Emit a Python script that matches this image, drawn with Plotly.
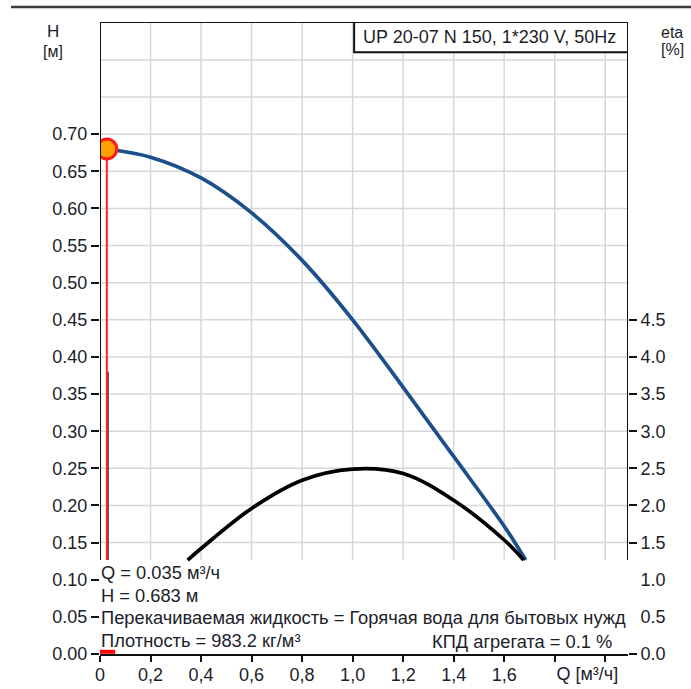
import plotly.graph_objects as go

# ---------------- data ----------------
q_head = [0.027, 0.2, 0.4, 0.6, 0.8, 1.0, 1.2, 1.4, 1.6, 1.685]
h_head = [0.680, 0.669, 0.641, 0.594, 0.530, 0.450, 0.359, 0.266, 0.172, 0.1265]

q_eta = [0.347, 0.4, 0.6, 0.8, 1.0, 1.2, 1.4, 1.6, 1.677]
eta_vals = [1.265, 1.42, 1.96, 2.34, 2.49, 2.43, 2.07, 1.535, 1.265]

op_q = 0.027          # operating point (drawn position)
op_h = 0.680
op_q_label = "0.035"
op_h_label = "0.683"

x_tick_vals = [0, 0.2, 0.4, 0.6, 0.8, 1.0, 1.2, 1.4, 1.6, 1.8, 2.0]
x_tick_text = ["0", "0,2", "0,4", "0,6", "0,8", "1,0", "1,2", "1,4", "1,6", "", ""]
h_tick_vals = [0.00, 0.05, 0.10, 0.15, 0.20, 0.25, 0.30, 0.35, 0.40, 0.45, 0.50, 0.55, 0.60, 0.65, 0.70]
eta_tick_vals_marked = [0.0, 1.5, 2.0, 2.5, 3.0, 3.5, 4.0, 4.5]
eta_tick_vals_plain = [0.5, 1.0]
h_grid = [0.15, 0.20, 0.25, 0.30, 0.35, 0.40, 0.45, 0.50, 0.55, 0.60, 0.65, 0.70, 0.75, 0.80]
q_grid = [0.2, 0.4, 0.6, 0.8, 1.0, 1.2, 1.4, 1.6, 1.8, 2.0]

info_lines = [
    "Q = " + op_q_label + " м³/ч",
    "H = " + op_h_label + " м",
    "Перекачиваемая жидкость = Горячая вода для бытовых нужд",
    "Плотность = 983.2 кг/м³",
]
eff_text = "КПД агрегата = 0.1 %"
title_text = "UP 20-07 N 150, 1*230 V, 50Hz"

X_MAX = 2.09
H_MAX = 0.851
ETA_MAX = H_MAX * 10
GRID_BOTTOM = 0.1265

FONT = "Arial, Liberation Sans, sans-serif"
TXT = "#1c1e2a"
GRID = "#d4d7db"
FS = 18

fig = go.Figure()

# red marker bar on axis
fig.add_trace(go.Scatter(x=[0, 0.06], y=[0.003, 0.003], mode="lines",
                         line=dict(color="red", width=4), hoverinfo="skip", showlegend=False))
# dark companion line
fig.add_trace(go.Scatter(x=[op_q + 0.005, op_q + 0.005], y=[GRID_BOTTOM, 0.38], mode="lines",
                         line=dict(color="#333333", width=1.5), hoverinfo="skip", showlegend=False))
# red vertical line
fig.add_trace(go.Scatter(x=[op_q, op_q], y=[GRID_BOTTOM, op_h], mode="lines",
                         line=dict(color="#ff2020", width=2), hoverinfo="skip", showlegend=False))
# eta curve
fig.add_trace(go.Scatter(x=q_eta, y=eta_vals, mode="lines", yaxis="y2",
                         line=dict(color="black", width=3.7, shape="spline", smoothing=1.0),
                         hoverinfo="skip", showlegend=False))
# head curve
fig.add_trace(go.Scatter(x=q_head, y=h_head, mode="lines",
                         line=dict(color="#1d4f8a", width=3.7, shape="spline", smoothing=1.0),
                         hoverinfo="skip", showlegend=False))
# operating point
fig.add_trace(go.Scatter(x=[op_q], y=[op_h], mode="markers",
                         marker=dict(size=20, color="#ffa000", line=dict(color="#ff1a1a", width=3)),
                         hoverinfo="skip", showlegend=False))
# dummy trace to activate extra axes
fig.add_trace(go.Scatter(x=[None], y=[None], xaxis="x2", yaxis="y3", showlegend=False))

shapes = []
for q in q_grid:
    shapes.append(dict(type="line", xref="x", yref="y", x0=q, x1=q, y0=GRID_BOTTOM, y1=H_MAX,
                       line=dict(color=GRID, width=1.5), layer="below"))
for h in h_grid:
    shapes.append(dict(type="line", xref="x", yref="y", x0=0, x1=X_MAX, y0=h, y1=h,
                       line=dict(color=GRID, width=1.5), layer="below"))
# frame: left, top, right
shapes.append(dict(type="line", xref="x", yref="y", x0=0, x1=0, y0=GRID_BOTTOM, y1=H_MAX,
                   line=dict(color="#111", width=2), layer="above"))
shapes.append(dict(type="line", xref="x", yref="y", x0=0, x1=X_MAX, y0=H_MAX, y1=H_MAX,
                   line=dict(color="#111", width=2), layer="above"))
shapes.append(dict(type="line", xref="x", yref="y", x0=X_MAX, x1=X_MAX, y0=GRID_BOTTOM, y1=H_MAX,
                   line=dict(color="#111", width=2), layer="above"))
# title box
shapes.append(dict(type="rect", xref="x", yref="y", x0=1.006, x1=X_MAX, y0=0.8103, y1=H_MAX,
                   fillcolor="white", line=dict(color="#111", width=2), layer="above"))
# top page line
shapes.append(dict(type="line", xref="paper", yref="paper", x0=-89 / 528, x1=591 / 528,
                   y0=1 + 15 / 632, y1=1 + 15 / 632, line=dict(color="#3a3a3a", width=2.5)))


def ann(text, x, y, xref="paper", yref="paper", xanchor="center", size=FS):
    return dict(text=text, x=x, y=y, xref=xref, yref=yref, xanchor=xanchor, yanchor="middle",
                showarrow=False, font=dict(size=size, color=TXT, family=FONT))


annotations = [
    ann(title_text, (0.994 + X_MAX) / 2, (0.8103 + H_MAX) / 2, xref="x", yref="y", size=FS),
    ann("H", -47 / 528, (654 - 32) / 632, size=17),
    ann("[м]", -47 / 528, (654 - 51) / 632, size=16),
    ann("eta", 572 / 528, (654 - 33) / 632, size=16),
    ann("[%]", 572 / 528, (654 - 49) / 632, size=16),
]
line_y = [572, 595, 617, 640]
for txt, py in zip(info_lines, line_y):
    annotations.append(ann(txt, -1 / 528, (654 - py) / 632, xanchor="left", size=18.3))
annotations.append(ann(eff_text, (614 - 100) / 528, (654 - 641) / 632, xanchor="right", size=18.3))

tickfont = dict(size=FS, color=TXT, family=FONT)

fig.update_layout(
    width=691, height=689,
    margin=dict(l=100, r=63, t=22, b=35, autoexpand=False),
    paper_bgcolor="white", plot_bgcolor="rgba(0,0,0,0)",
    shapes=shapes, annotations=annotations,
    xaxis=dict(range=[0, X_MAX], tickvals=x_tick_vals, ticktext=x_tick_text,
               ticks="outside", ticklen=6, tickwidth=1.5, tickcolor="#111",
               showline=True, linecolor="#111", linewidth=2, automargin=False,
               ticklabelstandoff=-3,
               showgrid=False, zeroline=False, tickfont=tickfont),
    xaxis2=dict(range=[0, X_MAX], overlaying="x", side="bottom", anchor="y",
                tickvals=[1.929], ticktext=["Q [м³/ч]"], ticks="outside", ticklen=6,
                tickcolor="rgba(0,0,0,0)", showgrid=False, zeroline=False, showline=False,
                ticklabelstandoff=-3, automargin=False, tickfont=tickfont),
    yaxis=dict(range=[0, H_MAX], tickvals=h_tick_vals, ticktext=[f"{v:.2f}" for v in h_tick_vals],
               ticks="outside", ticklen=8, tickwidth=1.5, tickcolor="#111", automargin=False,
               showline=False, showgrid=False, zeroline=False, tickfont=tickfont),
    yaxis2=dict(range=[0, ETA_MAX], overlaying="y", side="right", anchor="x",
                tickvals=eta_tick_vals_marked, ticktext=[f"{v:.1f}" for v in eta_tick_vals_marked],
                ticks="outside", ticklen=8, tickwidth=1.5, tickcolor="#111", automargin=False,
                showline=False, showgrid=False, zeroline=False, tickfont=tickfont),
    yaxis3=dict(range=[0, ETA_MAX], overlaying="y", side="right", anchor="x",
                tickvals=eta_tick_vals_plain, ticktext=[f"{v:.1f}" for v in eta_tick_vals_plain],
                ticks="outside", ticklen=8, tickcolor="rgba(0,0,0,0)", automargin=False,
                showline=False, showgrid=False, zeroline=False, tickfont=tickfont),
)

fig.write_html("out.html")
